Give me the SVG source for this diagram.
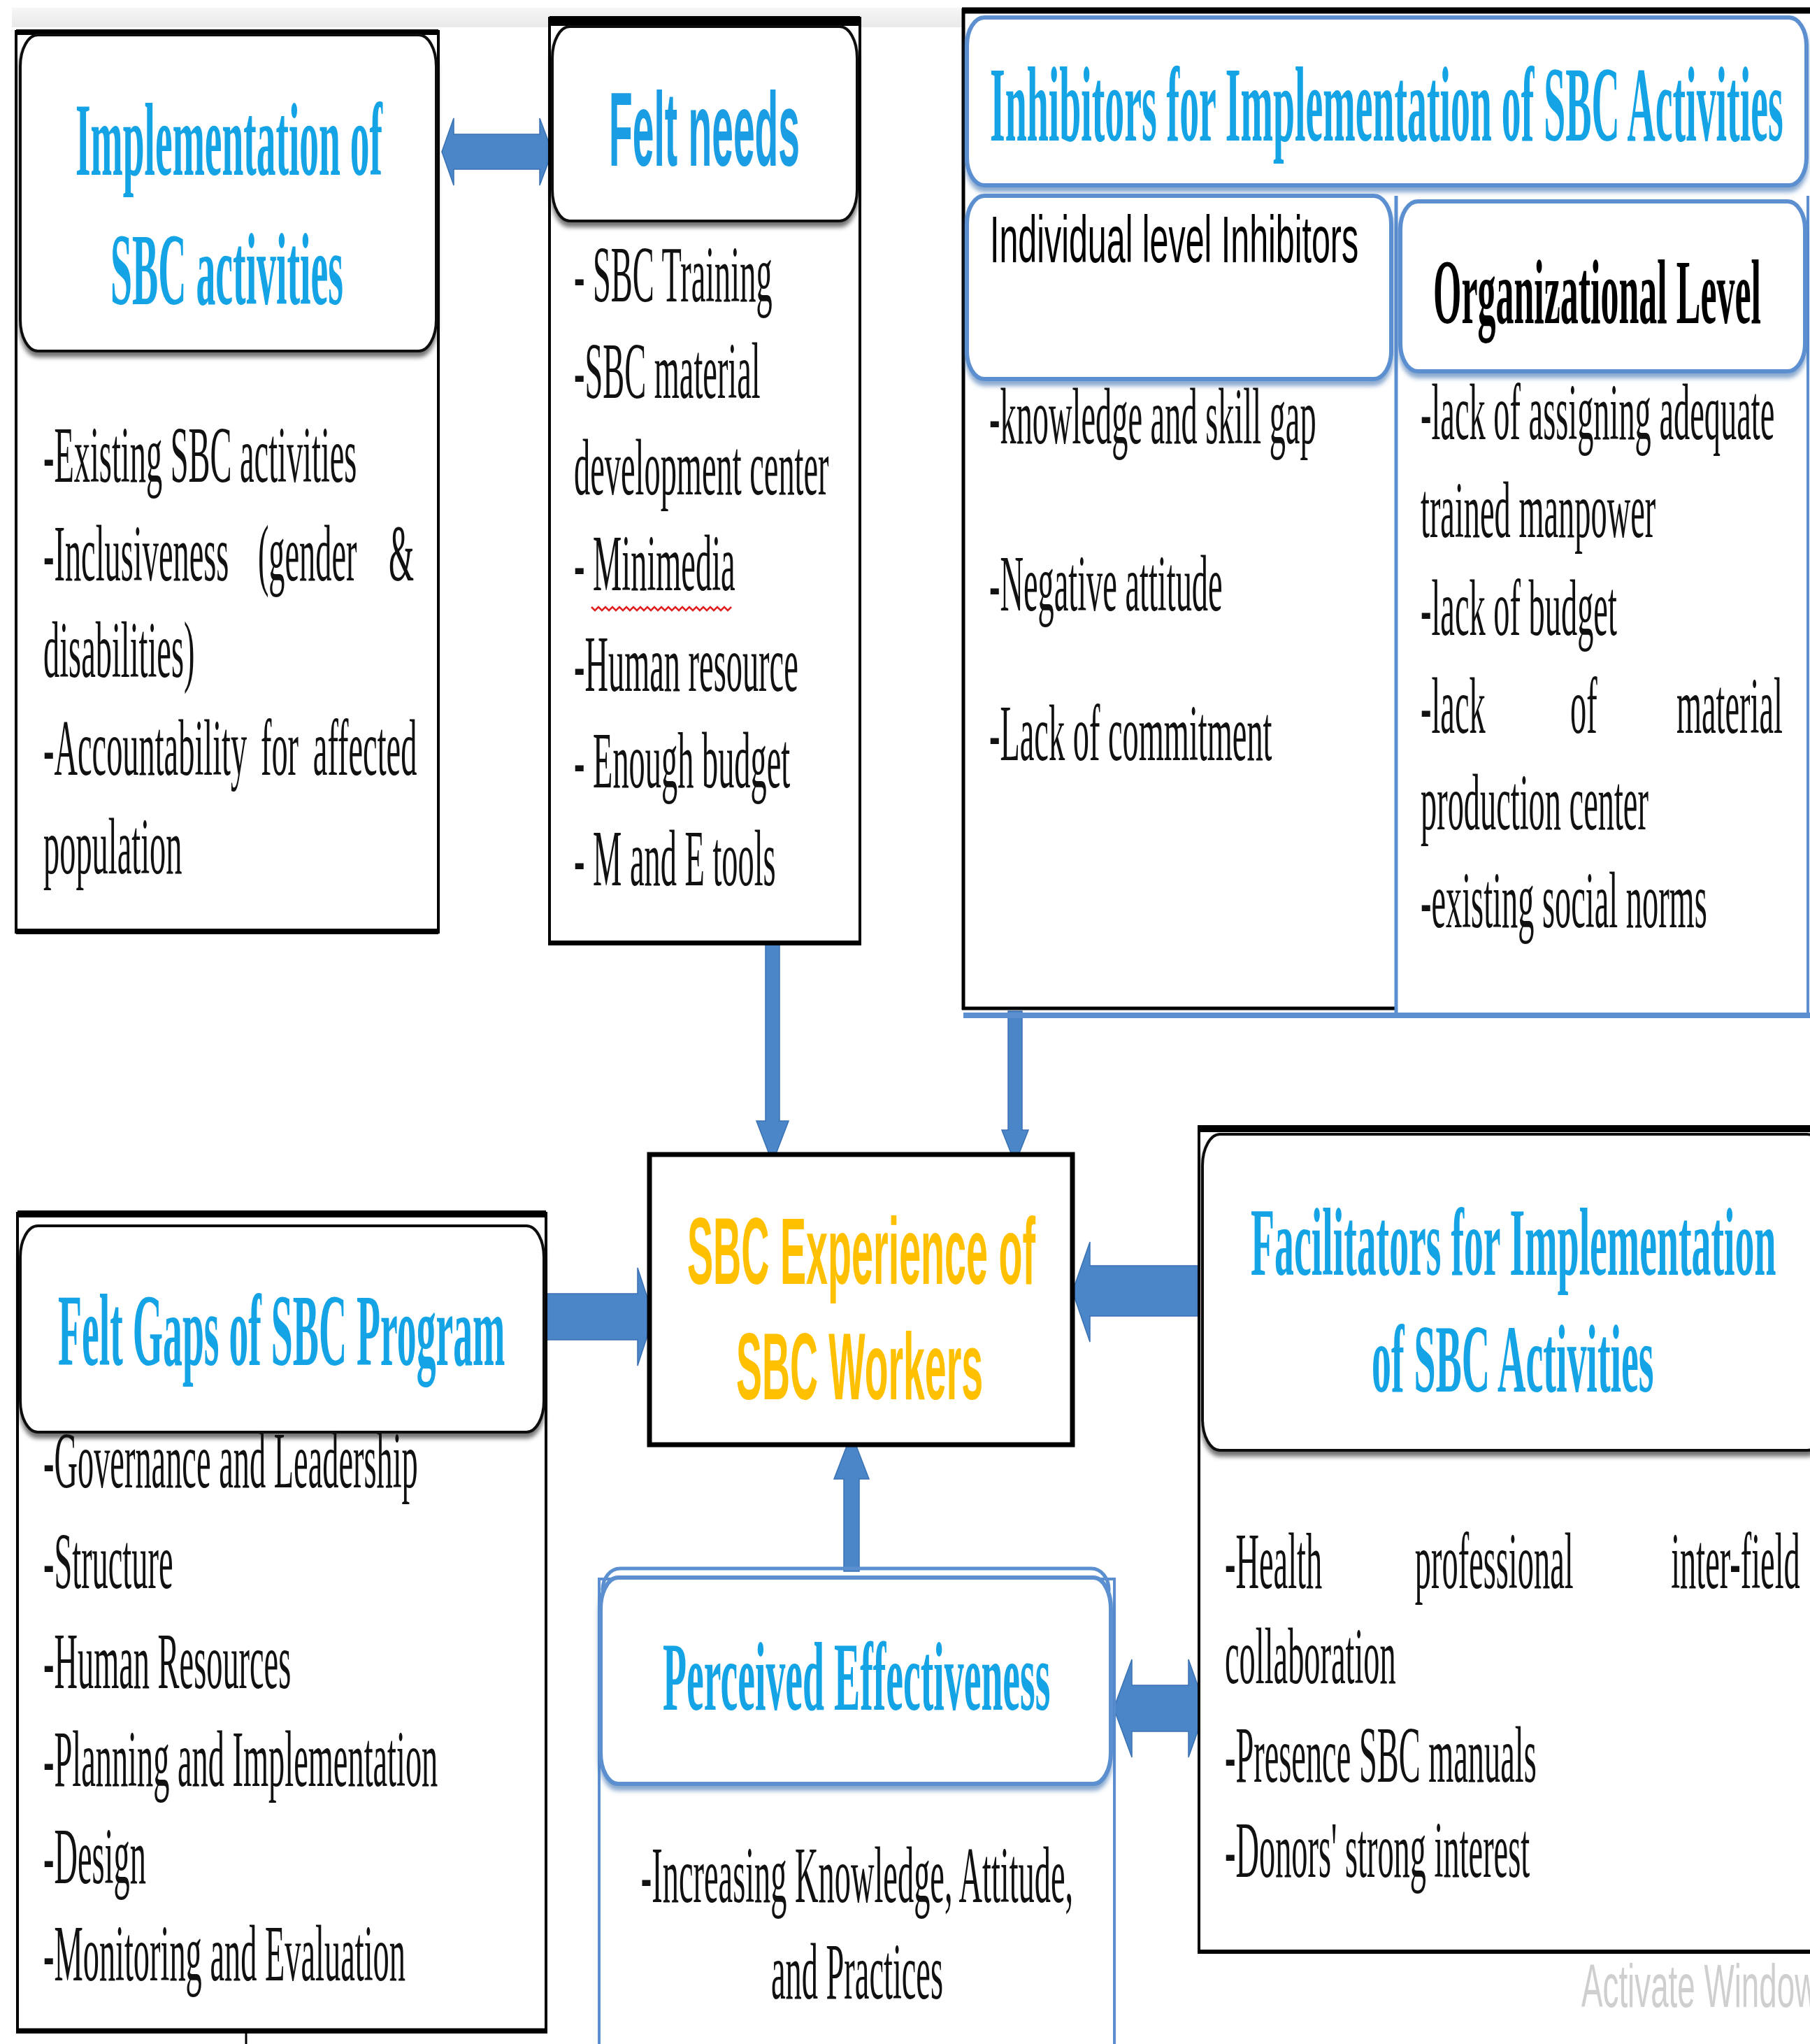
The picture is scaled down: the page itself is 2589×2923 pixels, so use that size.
<svg xmlns="http://www.w3.org/2000/svg" width="2589" height="2923" viewBox="0 0 2589 2923">
<style>
.box{fill:#fff;stroke:#000;stroke-width:4}
.edge{stroke:#000;fill:none}
.bedge{stroke:#5b8fd0;fill:none}
.hdr{fill:#fff;stroke:#111;stroke-width:4;filter:url(#sh)}
.bhdr{fill:#fff;stroke:#5b8fd0;stroke-width:6;filter:url(#shb)}
.body{font-family:"Liberation Serif","Times New Roman",serif;font-size:114px;fill:#111}
.ttl{font-family:"Liberation Serif","Times New Roman",serif;font-weight:bold;fill:#14a3e4}
.sans{font-family:"Liberation Sans",Arial,sans-serif}
.arrow{fill:#4a86c8;stroke:#3a72b4;stroke-width:1.5}
</style>
<defs>
<filter id="sh" x="-5%" y="-5%" width="110%" height="125%"><feDropShadow dx="0" dy="7" stdDeviation="3" flood-color="#000" flood-opacity="0.55"/></filter>
<filter id="shb" x="-5%" y="-5%" width="110%" height="125%"><feDropShadow dx="0" dy="7" stdDeviation="3" flood-color="#3d6fb0" flood-opacity="0.6"/></filter>
<linearGradient id="band" x1="0" y1="0" x2="0" y2="1"><stop offset="0" stop-color="#f6f6f6"/><stop offset="1" stop-color="#e9e9e9"/></linearGradient>
</defs>
<rect x="0" y="0" width="2589" height="2923" fill="#fff"/>
<rect x="17" y="11" width="1363" height="28" fill="url(#band)"/>

<g id="connectors">
<polygon class="arrow" points="632,217 649,169 649,192 772,192 772,169 790,217 772,265 772,242 649,242 649,265"/>
<polygon class="arrow" points="1095,1350 1115,1350 1115,1603 1128,1603 1105,1663 1082,1603 1095,1603"/>
<polygon class="arrow" points="1442,1446 1462,1446 1462,1616 1471,1616 1452,1664 1433,1616 1442,1616"/>
<polygon class="arrow" points="781,1850 912,1850 912,1813 935,1883 912,1953 912,1916 781,1916"/>
<polygon class="arrow" points="1714,1810 1559,1810 1559,1776 1534,1847 1559,1919 1559,1882 1714,1882"/>
<polygon class="arrow" points="1207,2247 1207,2115 1193,2115 1218,2050 1243,2115 1229,2115 1229,2247"/>
<polygon class="arrow" points="1593,2443 1619,2373 1619,2410 1700,2410 1700,2373 1725,2443 1700,2513 1700,2476 1619,2476 1619,2513"/>
<line x1="352" y1="2857" x2="352" y2="2923" stroke="#000" stroke-width="3"/>
</g>

<g id="node-implementation">
<rect class="box" x="23" y="45" width="604" height="1288"/>
<line class="edge" x1="23" y1="46" x2="627" y2="46" stroke-width="8"/>
<line class="edge" x1="23" y1="1332" x2="627" y2="1332" stroke-width="8"/>
<rect class="hdr" x="29" y="50" width="595" height="452" rx="25" ry="45"/>
<text class="ttl" font-size="148" transform="translate(108 250) scale(0.3747 1)">Implementation of</text>
<text class="ttl" font-size="146" transform="translate(158 435) scale(0.382 1)">SBC activities</text>
<text class="body" transform="translate(62 689) scale(0.407 1)">-Existing SBC activities</text>
<text class="body" transform="translate(62 830) scale(0.407 1)"><tspan x="0">-Inclusiveness</tspan><tspan x="754">(gender</tspan><tspan x="1214">&amp;</tspan></text>
<text class="body" transform="translate(62 968) scale(0.407 1)">disabilities)</text>
<text class="body" transform="translate(62 1108) scale(0.407 1)"><tspan x="0">-Accountability</tspan><tspan x="764">for</tspan><tspan x="948">affected</tspan></text>
<text class="body" transform="translate(62 1249) scale(0.407 1)">population</text>
</g>

<g id="node-felt-needs">
<rect class="box" x="786" y="26" width="444" height="1324"/>
<line class="edge" x1="786" y1="30" x2="1230" y2="30" stroke-width="14"/>
<line class="edge" x1="786" y1="1348" x2="1230" y2="1348" stroke-width="6"/>
<rect class="hdr" x="790" y="38" width="436" height="278" rx="25" ry="45"/>
<text class="ttl sans" font-size="151" transform="translate(871 237) scale(0.3656 1)" style="fill:#1a9de2">Felt needs</text>
<text class="body" transform="translate(821 431) scale(0.407 1)">- SBC Training</text>
<text class="body" transform="translate(821 569) scale(0.407 1)">-SBC material</text>
<text class="body" transform="translate(821 707) scale(0.407 1)">development center</text>
<text class="body" transform="translate(821 844) scale(0.407 1)">- Minimedia</text>
<path d="M846 868 l5 5 l5 -5 l5 5 l5 -5 l5 5 l5 -5 l5 5 l5 -5 l5 5 l5 -5 l5 5 l5 -5 l5 5 l5 -5 l5 5 l5 -5 l5 5 l5 -5 l5 5 l5 -5 l5 5 l5 -5 l5 5 l5 -5 l5 5 l5 -5 l5 5 l5 -5 l5 5 l5 -5 l5 5 l5 -5 l5 5 l5 -5 l5 5 l5 -5 l5 5 l5 -5 l5 5 l5 -5" fill="none" stroke="#e02020" stroke-width="2.5"/>
<text class="body" transform="translate(821 988) scale(0.407 1)">-Human resource</text>
<text class="body" transform="translate(821 1126) scale(0.407 1)">- Enough budget</text>
<text class="body" transform="translate(821 1266) scale(0.407 1)">- M and E tools</text>
</g>

<g id="node-inhibitors">
<line class="edge" x1="1378" y1="12" x2="1378" y2="1444" stroke-width="5"/>
<line class="edge" x1="1376" y1="15" x2="2589" y2="15" stroke-width="9"/>
<line class="bedge" x1="1378" y1="1452" x2="2589" y2="1452" stroke-width="8"/>
<line class="edge" x1="1376" y1="1442" x2="1997" y2="1442" stroke-width="5"/>
<line class="bedge" x1="1997" y1="280" x2="1997" y2="1452" stroke-width="5"/>
<line class="bedge" x1="2586" y1="280" x2="2586" y2="1452" stroke-width="4"/>
<rect class="bhdr" x="1383" y="25" width="1201" height="240" rx="25" ry="40"/>
<text class="ttl" font-size="152" transform="translate(1416 201) scale(0.367 1)">Inhibitors for Implementation of SBC Activities</text>
<rect class="bhdr" x="1383" y="280" width="607" height="262" rx="25" ry="40"/>
<text class="sans" font-size="94" fill="#000" transform="translate(1416 375) scale(0.5147 1)">Individual level Inhibitors</text>
<rect class="bhdr" x="2003" y="288" width="579" height="243" rx="25" ry="40"/>
<text font-family="'Liberation Serif','Times New Roman',serif" font-weight="bold" font-size="131" fill="#000" transform="translate(2050 462) scale(0.3966 1)">Organizational Level</text>
<text class="body" transform="translate(1415 634) scale(0.407 1)">-knowledge and skill gap</text>
<text class="body" transform="translate(1415 873) scale(0.407 1)">-Negative attitude</text>
<text class="body" transform="translate(1415 1087) scale(0.407 1)">-Lack of commitment</text>
<text class="body" transform="translate(2032 628) scale(0.407 1)">-lack of assigning adequate</text>
<text class="body" transform="translate(2032 768) scale(0.407 1)">trained manpower</text>
<text class="body" transform="translate(2032 908) scale(0.407 1)">-lack of budget</text>
<text class="body" transform="translate(2032 1048) scale(0.407 1)"><tspan x="0">-lack</tspan><tspan x="526">of</tspan><tspan x="899">material</tspan></text>
<text class="body" transform="translate(2032 1186) scale(0.407 1)">production center</text>
<text class="body" transform="translate(2032 1326) scale(0.407 1)">-existing social norms</text>
</g>

<g id="node-experience">
<rect class="box" x="929" y="1651" width="605" height="415" style="stroke-width:7"/>
<text class="sans" font-size="135" font-weight="bold" fill="#ffc000" transform="translate(983 1836) scale(0.4123 1)">SBC Experience of</text>
<text class="sans" font-size="135" font-weight="bold" fill="#ffc000" transform="translate(1053 2001) scale(0.4104 1)">SBC Workers</text>
</g>

<g id="node-felt-gaps">
<rect class="box" x="25" y="1735" width="756" height="1171"/>
<line class="edge" x1="25" y1="1736" x2="781" y2="1736" stroke-width="10"/>
<line class="edge" x1="25" y1="2904" x2="781" y2="2904" stroke-width="7"/>
<rect class="hdr" x="29" y="1753" width="749" height="295" rx="25" ry="45"/>
<text class="ttl" font-size="147" transform="translate(83 1952) scale(0.379 1)">Felt Gaps of SBC Program</text>
<text class="body" transform="translate(62 2127) scale(0.407 1)">-Governance and Leadership</text>
<text class="body" transform="translate(62 2271) scale(0.407 1)">-Structure</text>
<text class="body" transform="translate(62 2414) scale(0.407 1)">-Human Resources</text>
<text class="body" transform="translate(62 2554) scale(0.407 1)">-Planning and Implementation</text>
<text class="body" transform="translate(62 2693) scale(0.407 1)">-Design</text>
<text class="body" transform="translate(62 2832) scale(0.407 1)">-Monitoring and Evaluation</text>
</g>

<g id="node-facilitators">
<rect class="box" x="1715" y="1615" width="900" height="1177"/>
<line class="edge" x1="1713" y1="1614" x2="2589" y2="1614" stroke-width="10"/>
<line class="edge" x1="1713" y1="2791" x2="2589" y2="2791" stroke-width="6"/>
<rect class="hdr" x="1720" y="1622" width="890" height="452" rx="25" ry="45"/>
<text class="ttl" font-size="138" transform="translate(1789 1823) scale(0.404 1)">Facilitators for Implementation</text>
<text class="ttl" font-size="138" transform="translate(1962 1990) scale(0.405 1)">of SBC Activities</text>
<text class="body" transform="translate(1752 2271) scale(0.407 1)"><tspan x="0">-Health</tspan><tspan x="668">professional</tspan><tspan x="1568">inter-field</tspan></text>
<text class="body" transform="translate(1752 2407) scale(0.407 1)">collaboration</text>
<text class="body" transform="translate(1752 2548) scale(0.407 1)">-Presence SBC manuals</text>
<text class="body" transform="translate(1752 2684) scale(0.407 1)">-Donors' strong interest</text>
</g>

<g id="node-perceived">
<rect x="857" y="2258" width="737" height="700" fill="#fff" stroke="#5b8fd0" stroke-width="4"/>
<rect x="862" y="2243" width="724" height="60" rx="25" ry="30" fill="none" stroke="#5b8fd0" stroke-width="5"/>
<rect class="bhdr" x="859" y="2256" width="730" height="295" rx="25" ry="45"/>
<text class="ttl" font-size="139" transform="translate(948 2445) scale(0.401 1)">Perceived Effectiveness</text>
<text class="body" text-anchor="middle" transform="translate(1226 2720) scale(0.407 1)">-Increasing Knowledge, Attitude,</text>
<text class="body" text-anchor="middle" transform="translate(1226 2858) scale(0.407 1)">and Practices</text>
</g>

<text class="sans" transform="translate(2262 2870) scale(0.52 1)" font-size="88" fill="#cfcfcf">Activate Windows</text>
</svg>
